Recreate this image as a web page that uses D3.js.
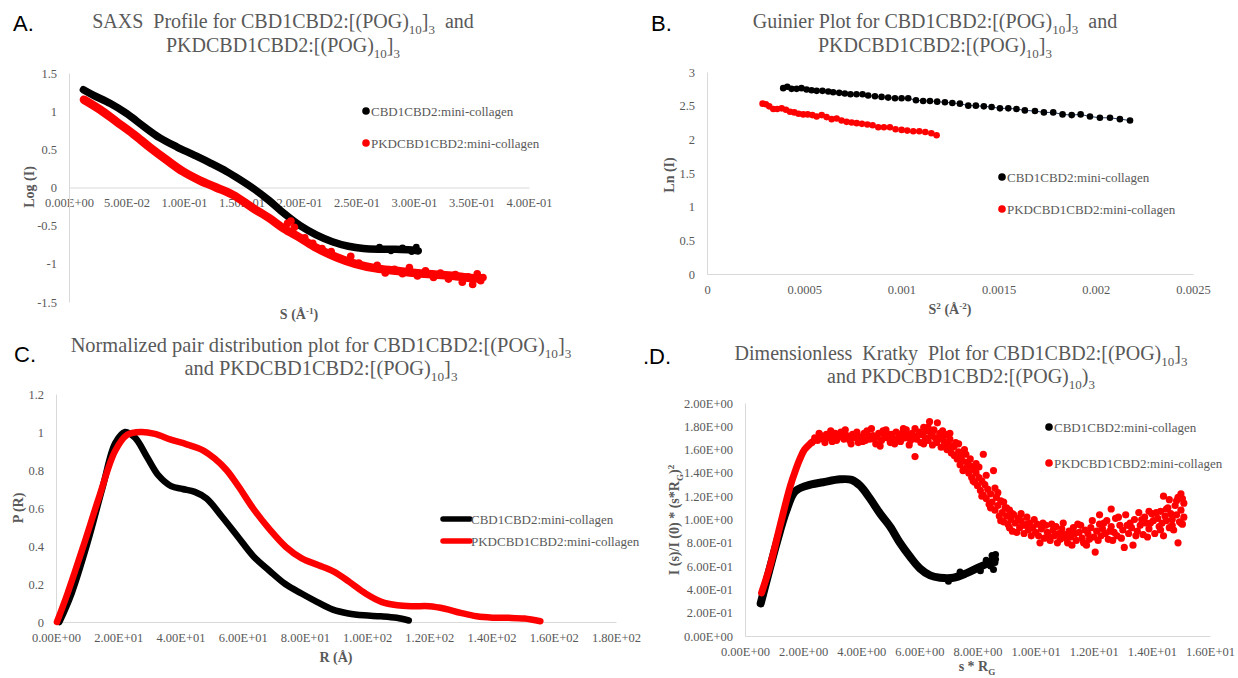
<!DOCTYPE html>
<html>
<head>
<meta charset="utf-8">
<script src="https://cdn.jsdelivr.net/npm/d3@7"></script>
<style>
body { margin: 0; background: #fff; }
svg { display: block; }
.tick text { font-family: "Liberation Serif", "Times New Roman", serif; font-size: 12.5px; fill: #595959; }
.domain { stroke: #d9d9d9; }
</style>
</head>
<body>
<svg id="fig" width="1238" height="678"></svg>
<script>
// ---------- data ----------
const seriesNames = ["CBD1CBD2:mini-collagen", "PKDCBD1CBD2:mini-collagen"];

// A. SAXS profile: [S, log I]
const saxsBlack = [[0.0125,1.28],[0.021,1.21],[0.036,1.10],[0.050,0.97],[0.065,0.80],[0.079,0.65],[0.094,0.53],[0.108,0.43],[0.123,0.32],[0.137,0.21],[0.149,0.10],[0.160,-0.01],[0.174,-0.17],[0.187,-0.34],[0.201,-0.50],[0.215,-0.62],[0.229,-0.71],[0.243,-0.77],[0.256,-0.80],[0.270,-0.81],[0.284,-0.81],[0.298,-0.82],[0.303,-0.83]];
const saxsBlackTail = [[0.270,-0.78],[0.280,-0.83],[0.290,-0.79],[0.298,-0.84],[0.302,-0.78],[0.304,-0.83]];
const saxsRed = [[0.013,1.15],[0.027,1.02],[0.0415,0.86],[0.056,0.70],[0.070,0.53],[0.085,0.36],[0.099,0.21],[0.114,0.09],[0.128,0.00],[0.143,-0.10],[0.160,-0.27],[0.174,-0.40],[0.187,-0.54],[0.201,-0.66],[0.215,-0.79],[0.232,-0.91],[0.249,-1.00],[0.267,-1.06],[0.284,-1.09],[0.301,-1.12],[0.318,-1.14],[0.335,-1.16],[0.353,-1.19],[0.358,-1.19]];
const saxsRedTail = [[0.190,-0.47],[0.193,-0.44],[0.196,-0.52],[0.205,-0.66],[0.212,-0.73],[0.220,-0.80],[0.228,-0.84],[0.236,-0.93],[0.245,-0.90],[0.252,-0.99],[0.260,-1.04],[0.268,-1.02],[0.275,-1.12],[0.283,-1.07],[0.290,-1.13],[0.296,-1.05],[0.303,-1.16],[0.310,-1.09],[0.317,-1.18],[0.323,-1.12],[0.330,-1.20],[0.336,-1.14],[0.342,-1.24],[0.347,-1.17],[0.351,-1.27],[0.355,-1.13],[0.358,-1.22],[0.360,-1.18]];
const saxsXTicks = [0, 0.05, 0.1, 0.15, 0.2, 0.25, 0.3, 0.35, 0.4];
const saxsYTicks = [-1.5, -1, -0.5, 0, 0.5, 1, 1.5];

// B. Guinier: [S^2, ln I]
const guinierBlack = [[0.000392,2.76],[0.000413,2.78],[0.000435,2.75],[0.000461,2.75],[0.000486,2.76],[0.000512,2.74],[0.000538,2.73],[0.000564,2.72],[0.000594,2.72],[0.000624,2.71],[0.000649,2.70],[0.000680,2.69],[0.000709,2.68],[0.000738,2.67],[0.000769,2.67],[0.000800,2.67],[0.000829,2.65],[0.000864,2.64],[0.000898,2.63],[0.000932,2.62],[0.000967,2.61],[0.001001,2.61],[0.001035,2.61],[0.001075,2.58],[0.001112,2.57],[0.001147,2.57],[0.001184,2.56],[0.001224,2.55],[0.001262,2.54],[0.001301,2.53],[0.001344,2.50],[0.001383,2.50],[0.001424,2.49],[0.001464,2.48],[0.001507,2.46],[0.001550,2.46],[0.001592,2.45],[0.001635,2.43],[0.001687,2.42],[0.001733,2.40],[0.001781,2.40],[0.001829,2.37],[0.001876,2.36],[0.001922,2.37],[0.001970,2.34],[0.002021,2.32],[0.002073,2.32],[0.002124,2.30],[0.002176,2.28]];
const guinierRed = [[0.000286,2.53],[0.000303,2.52],[0.000320,2.49],[0.000341,2.45],[0.000361,2.45],[0.000384,2.46],[0.000406,2.44],[0.000427,2.41],[0.000449,2.40],[0.000471,2.38],[0.000495,2.37],[0.000518,2.37],[0.000542,2.36],[0.000564,2.34],[0.000590,2.36],[0.000615,2.33],[0.000641,2.30],[0.000667,2.31],[0.000692,2.28],[0.000718,2.26],[0.000744,2.25],[0.000770,2.24],[0.000797,2.23],[0.000825,2.22],[0.000852,2.21],[0.000881,2.18],[0.000910,2.18],[0.000941,2.18],[0.000970,2.15],[0.001001,2.14],[0.001030,2.13],[0.001061,2.12],[0.001092,2.12],[0.001123,2.11],[0.001154,2.09],[0.001181,2.06]];
const guinierXTicks = [0, 0.0005, 0.001, 0.0015, 0.002, 0.0025];
const guinierYTicks = [0, 0.5, 1, 1.5, 2, 2.5, 3];

// C. Normalized P(R): [R, P(R)]
const pddfBlack = [[1.1,0],[5,0.15],[10,0.41],[15,0.71],[19,0.94],[22.2,1.0],[25.4,0.97],[29.2,0.87],[33,0.77],[37,0.715],[40.7,0.70],[44.6,0.685],[48.4,0.65],[53.3,0.555],[58.4,0.45],[63.5,0.345],[68.6,0.27],[73.7,0.20],[78.9,0.15],[84,0.105],[89,0.065],[94,0.045],[99,0.035],[104.4,0.03],[109.5,0.022],[113.4,0.008]];
const pddfRed = [[0.3,0],[3.7,0.15],[8.8,0.40],[13.9,0.66],[19,0.90],[22.9,0.985],[27.3,1.0],[31.8,0.99],[36.9,0.96],[42,0.935],[47.1,0.905],[51,0.86],[54.8,0.80],[58.6,0.715],[63.7,0.59],[68.8,0.485],[73.9,0.395],[79,0.335],[84.2,0.30],[89.3,0.265],[94.4,0.21],[99.5,0.15],[104.6,0.106],[109.7,0.088],[114.8,0.083],[119.9,0.083],[125,0.07],[130.1,0.048],[135.2,0.03],[140.3,0.023],[145.5,0.022],[150.6,0.018],[155.7,0.004]];
const pddfXTicks = [0, 20, 40, 60, 80, 100, 120, 140, 160, 180];
const pddfYTicks = [0, 0.2, 0.4, 0.6, 0.8, 1, 1.2];

// D. Dimensionless Kratky: [s*Rg, I(s)/I(0)*(s*Rg)^2]
const kratkyBlack = [[0.54,0.28],[0.75,0.48],[1.09,0.80],[1.43,1.08],[1.72,1.24],[2.12,1.29],[2.69,1.32],[3.27,1.345],[3.67,1.34],[3.96,1.29],[4.30,1.18],[4.65,1.05],[4.99,0.94],[5.33,0.80],[5.68,0.68],[6.02,0.58],[6.37,0.52],[6.71,0.50],[7.17,0.50],[7.63,0.54],[7.97,0.58],[8.32,0.62],[8.60,0.66]];
const kratkyBlackTail = [[7.0,0.47],[7.4,0.55],[8.1,0.56],[8.3,0.65],[8.45,0.60],[8.5,0.69],[8.55,0.57],[8.6,0.63],[8.62,0.70]];
const kratkyRedRise = [[0.57,0.37],[0.86,0.60],[1.20,0.94],[1.55,1.28],[1.75,1.43],[1.89,1.52],[2.05,1.60],[2.24,1.65],[2.45,1.69],[2.7,1.71],[3.0,1.72]];
const kratkyRed = [[2.3,1.66],[2.4,1.70],[2.5,1.68],[2.6,1.72],[2.7,1.69],[2.8,1.73],[2.9,1.70],[3.0,1.67],[3.1,1.74],[3.2,1.71],[3.3,1.75],[3.4,1.69],[3.5,1.72],[3.6,1.68],[3.7,1.73],[3.8,1.70],[3.9,1.66],[4.0,1.71],[4.1,1.74],[4.15,1.68],[4.2,1.76],[4.3,1.69],[4.4,1.72],[4.5,1.65],[4.55,1.71],[4.6,1.74],[4.7,1.68],[4.8,1.72],[4.85,1.77],[4.9,1.70],[5.0,1.66],[5.05,1.73],[5.1,1.69],[5.2,1.75],[5.3,1.71],[5.35,1.67],[5.4,1.74],[5.5,1.70],[5.55,1.77],[5.6,1.72],[5.7,1.68],[5.75,1.74],[5.8,1.71],[5.85,1.78],[5.85,1.54],[5.9,1.69],[6.0,1.75],[6.05,1.66],[6.1,1.73],[6.15,1.79],[6.2,1.70],[6.25,1.76],[6.3,1.68],[6.35,1.84],[6.4,1.72],[6.45,1.64],[6.5,1.77],[6.55,1.70],[6.6,1.66],[6.62,1.83],[6.7,1.74],[6.75,1.62],[6.8,1.70],[6.85,1.67],[6.9,1.73],[6.95,1.60],[7.0,1.65],[7.05,1.69],[7.1,1.57],[7.15,1.62],[7.2,1.55],[7.25,1.66],[7.3,1.52],[7.35,1.58],[7.4,1.47],[7.45,1.55],[7.5,1.50],[7.55,1.60],[7.6,1.44],[7.65,1.49],[7.7,1.40],[7.75,1.46],[7.8,1.36],[7.85,1.43],[7.9,1.32],[7.95,1.40],[8.0,1.29],[8.05,1.36],[8.1,1.25],[8.15,1.33],[8.2,1.56],[8.2,1.21],[8.25,1.30],[8.3,1.18],[8.35,1.26],[8.4,1.13],[8.45,1.22],[8.5,1.15],[8.55,1.42],[8.6,1.08],[8.65,1.19],[8.7,1.12],[8.75,1.03],[8.8,1.16],[8.85,1.06],[8.9,0.98],[8.95,1.10],[9.0,1.03],[9.05,0.96],[9.1,1.08],[9.15,1.00],[9.2,0.90],[9.25,1.04],[9.3,0.97],[9.4,1.01],[9.45,0.93],[9.5,0.99],[9.6,0.95],[9.7,1.02],[9.75,0.91],[9.8,0.97],[9.9,0.93],[10.0,0.89],[10.05,0.96],[10.1,0.86],[10.2,0.92],[10.3,0.84],[10.35,0.95],[10.4,0.89],[10.5,0.82],[10.6,0.91],[10.65,0.86],[10.7,0.94],[10.8,0.88],[10.85,0.83],[10.9,0.92],[11.0,0.87],[11.1,0.80],[11.15,0.90],[11.2,0.85],[11.3,0.93],[11.35,0.88],[11.4,0.82],[11.5,0.89],[11.55,0.95],[11.6,0.84],[11.7,0.91],[11.75,0.78],[11.8,0.88],[11.9,0.93],[12.0,0.85],[12.05,0.72],[12.1,0.90],[12.2,0.96],[12.2,1.04],[12.25,0.86],[12.3,0.92],[12.4,0.88],[12.45,0.99],[12.5,0.83],[12.6,0.94],[12.6,1.09],[12.7,0.89],[12.75,1.01],[12.8,0.86],[12.9,0.95],[13.0,0.91],[13.05,0.76],[13.1,1.04],[13.2,0.88],[13.25,0.97],[13.3,0.93],[13.35,0.78],[13.4,1.00],[13.5,0.90],[13.55,1.06],[13.6,0.95],[13.7,0.87],[13.75,1.02],[13.8,0.97],[13.9,0.92],[13.9,1.07],[14.0,1.05],[14.05,0.99],[14.1,0.88],[14.2,1.01],[14.25,0.94],[14.3,1.07],[14.35,0.97],[14.4,0.86],[14.4,1.20],[14.45,1.03],[14.5,0.99],[14.55,1.10],[14.6,0.93],[14.6,1.17],[14.65,1.05],[14.7,1.00],[14.75,0.91],[14.8,1.12],[14.85,1.04],[14.9,0.80],[14.9,1.19],[14.95,0.98],[15.0,1.08],[15.0,1.22],[15.05,0.96],[15.1,1.14],[15.1,1.02]];
const kratkyRedMore = [[2.55,1.74],[2.75,1.66],[2.95,1.76],[3.15,1.68],[3.35,1.71],[3.45,1.77],[3.65,1.65],[3.85,1.75],[4.05,1.67],[4.25,1.72],[4.35,1.78],[4.45,1.69],[4.65,1.63],[4.75,1.76],[4.95,1.73],[5.15,1.65],[5.25,1.69],[5.45,1.78],[5.65,1.64],[5.95,1.72],[6.15,1.65],[6.3,1.79],[6.45,1.75],[6.65,1.69],[6.8,1.76],[6.9,1.64],[7.05,1.74],[7.2,1.63],[7.35,1.65],[7.5,1.42],[7.6,1.56],[7.75,1.52],[7.85,1.33],[7.95,1.48],[8.05,1.45],[8.15,1.20],[8.3,1.38],[8.45,1.10],[8.6,1.27],[8.7,1.23],[8.8,0.99],[8.9,1.15],[9.0,1.10],[9.1,0.93],[9.2,1.05],[9.35,0.89],[9.5,1.05],[9.6,0.88],[9.7,0.96],[9.85,0.86],[9.95,1.00],[10.15,0.80],[10.25,0.97],[10.45,0.86],[10.55,0.96],[10.75,0.80],[10.95,0.97],[11.05,0.84],[11.25,0.78],[11.45,0.96],[11.65,0.80],[11.85,0.83],[11.95,0.99],[12.15,0.82],[12.35,0.97],[12.55,0.90],[12.65,0.82],[12.85,1.02],[12.95,0.84],[13.15,0.95],[13.45,0.86],[13.65,1.00],[13.85,0.85],[13.95,0.97],[14.15,1.06],[14.3,0.91],[14.5,1.09],[14.7,0.95],[14.85,1.16],[15.0,0.97],[15.05,1.18]];
const kratkyXTicks = [0, 2, 4, 6, 8, 10, 12, 14, 16];
const kratkyYTicks = [0, 0.2, 0.4, 0.6, 0.8, 1, 1.2, 1.4, 1.6, 1.8, 2];

// ---------- helpers ----------
const fig = d3.select("#fig");
const SERIF = "'Liberation Serif', 'Times New Roman', serif";
const GREY = "#595959";
const colors = ["#000000", "#ff0000"];

// Excel style scientific labels, e.g. 5.00E-02
function sci(v) {
  if (v === 0) return "0.00E+00";
  const e = Math.floor(Math.log10(Math.abs(v)) + 1e-9);
  const m = v / Math.pow(10, e);
  return m.toFixed(2) + "E" + (e < 0 ? "-" : "+") + String(Math.abs(e)).padStart(2, "0");
}
const plain = d => String(+d.toFixed(4));

// text made of parts: [string, "sub"|"sup"|undefined]
function richText(parent, x, y, parts, size, opts = {}) {
  const t = parent.append("text")
    .attr("x", x).attr("y", y)
    .attr("text-anchor", opts.anchor || "middle")
    .attr("font-family", SERIF)
    .attr("font-size", size)
    .attr("font-weight", opts.bold ? "bold" : "normal")
    .attr("fill", GREY)
    .style("white-space", "pre");
  let shift = 0;
  parts.forEach(([s, k]) => {
    const target = k === "sub" ? size * 0.3 : k === "sup" ? -size * 0.38 : 0;
    const ts = t.append("tspan").attr("dy", target - shift).text(s);
    if (k) ts.attr("font-size", size * 0.65);
    shift = target;
  });
  return t;
}

function axes(x, y, xTicks, yTicks, xFmt, yFmt) {
  fig.append("g")
    .attr("transform", `translate(0,${y(0)})`)
    .call(d3.axisBottom(x).tickValues(xTicks).tickFormat(xFmt).tickSize(0).tickPadding(11));
  fig.append("g")
    .attr("transform", `translate(${x(0)},0)`)
    .call(d3.axisLeft(y).tickValues(yTicks).tickFormat(yFmt).tickSize(0).tickPadding(12));
}

function dots(data, x, y, r, color) {
  fig.append("g").selectAll("circle")
    .data(data)
    .join("circle")
    .attr("cx", d => x(d[0]))
    .attr("cy", d => y(d[1]))
    .attr("r", r)
    .attr("fill", color);
}

function band(data, x, y, width, color, curve = d3.curveCatmullRom) {
  fig.append("path")
    .datum(data)
    .attr("fill", "none")
    .attr("stroke", color)
    .attr("stroke-width", width)
    .attr("stroke-linecap", "round")
    .attr("stroke-linejoin", "round")
    .attr("d", d3.line().x(d => x(d[0])).y(d => y(d[1])).curve(curve));
}

function dotLegend(x0, ys, r) {
  seriesNames.forEach((name, i) => {
    fig.append("circle").attr("cx", x0).attr("cy", ys[i]).attr("r", r).attr("fill", colors[i]);
    fig.append("text")
      .attr("x", x0 + 5).attr("y", ys[i] + 4.5)
      .attr("font-family", SERIF).attr("font-size", 13).attr("fill", GREY)
      .text(name);
  });
}

function panelLetter(x, y, s) {
  fig.append("text").attr("x", x).attr("y", y)
    .attr("font-family", "'Liberation Sans', Arial, sans-serif")
    .attr("font-size", 22).attr("fill", "#000").text(s);
}

function yTitle(cx, cy, parts) {
  const g = fig.append("g").attr("transform", `translate(${cx},${cy}) rotate(-90)`);
  richText(g, 0, 5, parts, 14, { bold: true });
}

// ---------- A. SAXS profile ----------
{
  const x = d3.scaleLinear().domain([0, 0.4]).range([69, 529]);
  const y = d3.scaleLinear().domain([-1.5, 1.5]).range([302, 73]);
  axes(x, y, saxsXTicks, saxsYTicks, sci, plain);
  band(saxsBlack, x, y, 7.5, colors[0]);
  dots(saxsBlackTail, x, y, 3.4, colors[0]);
  band(saxsRed, x, y, 8.5, colors[1]);
  dots(saxsRedTail, x, y, 3.8, colors[1]);
  dotLegend(366, [111, 143], 3.8);
  panelLetter(13, 31, "A.");
  richText(fig, 283, 28, [["SAXS  Profile for CBD1CBD2:[(POG)"], ["10", "sub"], ["]"], ["3", "sub"], ["  and"]], 20);
  richText(fig, 283, 52, [["PKDCBD1CBD2:[(POG)"], ["10", "sub"], ["]"], ["3", "sub"]], 20);
  richText(fig, 299, 319, [["S (Å"], ["-1", "sup"], [")"]], 14, { bold: true });
  yTitle(29, 187, [["Log (I)"]]);
}

// ---------- B. Guinier ----------
{
  const x = d3.scaleLinear().domain([0, 0.0025]).range([707, 1193]);
  const y = d3.scaleLinear().domain([0, 3]).range([274, 72]);
  axes(x, y, guinierXTicks, guinierYTicks, plain, plain);
  band(guinierBlack, x, y, 1, "#203864", d3.curveLinear);
  dots(guinierBlack, x, y, 3.3, colors[0]);
  dots(guinierRed, x, y, 3.3, colors[1]);
  dotLegend(1002, [177, 209], 3.8);
  panelLetter(651, 31, "B.");
  richText(fig, 935, 28, [["Guinier Plot for CBD1CBD2:[(POG)"], ["10", "sub"], ["]"], ["3", "sub"], ["  and"]], 20);
  richText(fig, 935, 52, [["PKDCBD1CBD2:[(POG)"], ["10", "sub"], ["]"], ["3", "sub"]], 20);
  richText(fig, 950, 314, [["S"], ["2", "sup"], [" (Å"], ["-2", "sup"], [")"]], 14, { bold: true });
  yTitle(669, 175, [["Ln (I)"]]);
}

// ---------- C. P(R) ----------
{
  const x = d3.scaleLinear().domain([0, 180]).range([56, 616]);
  const y = d3.scaleLinear().domain([0, 1.2]).range([622, 394]);
  axes(x, y, pddfXTicks, pddfYTicks, sci, plain);
  band(pddfBlack, x, y, 6.5, colors[0]);
  band(pddfRed, x, y, 6.5, colors[1]);
  seriesNames.forEach((name, i) => {
    const ly = [519, 541][i];
    fig.append("line").attr("x1", 443).attr("x2", 470).attr("y1", ly).attr("y2", ly)
      .attr("stroke", colors[i]).attr("stroke-width", 5.5).attr("stroke-linecap", "round");
    fig.append("text").attr("x", 471).attr("y", ly + 4.5)
      .attr("font-family", SERIF).attr("font-size", 13).attr("fill", GREY).text(name);
  });
  panelLetter(14, 362, "C.");
  richText(fig, 321, 352, [["Normalized pair distribution plot for CBD1CBD2:[(POG)"], ["10", "sub"], ["]"], ["3", "sub"]], 20.4);
  richText(fig, 321, 375, [["and PKDCBD1CBD2:[(POG)"], ["10", "sub"], ["]"], ["3", "sub"]], 20.4);
  richText(fig, 336, 662, [["R (Å)"]], 14, { bold: true });
  yTitle(18, 508, [["P (R)"]]);
}

// ---------- D. Kratky ----------
{
  const x = d3.scaleLinear().domain([0, 16]).range([745, 1210]);
  const y = d3.scaleLinear().domain([0, 2]).range([636, 403]);
  axes(x, y, kratkyXTicks, kratkyYTicks, sci, sci);
  band(kratkyBlack, x, y, 8, colors[0]);
  dots(kratkyBlackTail, x, y, 3.5, colors[0]);
  band(kratkyRedRise, x, y, 7, colors[1]);
  dots(kratkyRed, x, y, 3.6, colors[1]);
  dots(kratkyRedMore, x, y, 3.6, colors[1]);
  dotLegend(1049, [427, 463], 3.8);
  panelLetter(643, 364, ".D.");
  richText(fig, 961, 360, [["Dimensionless  Kratky  Plot for CBD1CBD2:[(POG)"], ["10", "sub"], ["]"], ["3", "sub"]], 20);
  richText(fig, 961, 383, [["and PKDCBD1CBD2:[(POG)"], ["10", "sub"], [")"], ["3", "sub"]], 20);
  richText(fig, 977, 671, [["s * R"], ["G", "sub"]], 14, { bold: true });
  yTitle(674, 520, [["I (s)/I (0) * (s*R"], ["G", "sub"], [")"], ["2", "sup"]]);
}
</script>
</body>
</html>
